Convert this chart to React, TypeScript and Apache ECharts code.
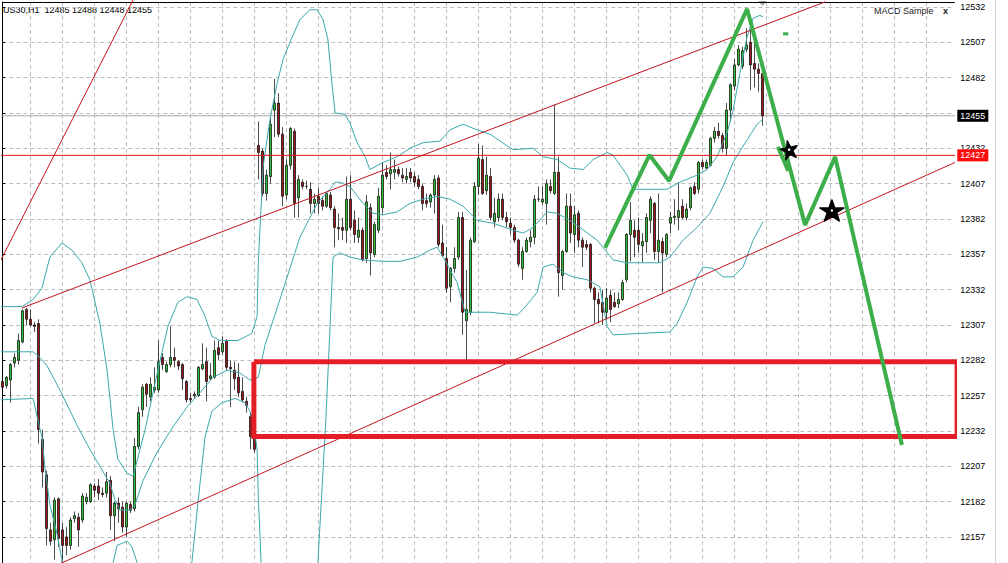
import React, { useEffect, useRef } from "react";
import * as echarts from "echarts";

// ---- Candles (H1 bars) ----
const opens = [
  12267, 12264, 12268, 12280, 12282, 12295, 12318, 12311, 12307, 12308,
  12226, 12201, 12162, 12155, 12184, 12162, 12157, 12151, 12170, 12171,
  12169, 12182, 12182, 12193, 12193, 12188, 12188, 12197, 12172, 12181,
  12178, 12164, 12180, 12177, 12221, 12247, 12265, 12256, 12261, 12261,
  12284, 12274, 12279, 12284, 12281, 12279, 12267, 12255, 12258, 12257,
  12276, 12281, 12269, 12270, 12291, 12288, 12296, 12277, 12275, 12270,
  12260, 12253, 12242, 12228, 12434, 12430, 12400, 12412, 12459, 12464,
  12442, 12399, 12420, 12444, 12397, 12408, 12405, 12403, 12393, 12398,
  12395, 12391, 12399, 12389, 12376, 12376, 12374, 12396, 12381, 12369,
  12374, 12354, 12390, 12357, 12374, 12390, 12415, 12414, 12415, 12417,
  12413, 12410, 12415, 12412, 12410, 12405, 12395, 12394, 12399, 12411,
  12365, 12354, 12334, 12347, 12355, 12383, 12310, 12316, 12366, 12405,
  12424, 12402, 12412, 12380, 12383, 12396, 12383, 12379, 12376, 12367,
  12347, 12359, 12366, 12369, 12396, 12394, 12393, 12405, 12400, 12415,
  12342, 12359, 12391, 12371, 12386, 12367, 12364, 12364, 12333, 12325,
  12323, 12316, 12328, 12323, 12322, 12325, 12339, 12371, 12374, 12374,
  12363, 12366, 12381, 12393, 12359, 12366, 12357, 12379, 12383, 12383,
  12391, 12383, 12390, 12405, 12403, 12422, 12418, 12420, 12439, 12444,
  12441, 12432, 12459, 12476, 12491, 12490, 12502, 12507, 12492, 12488,
  12485,
];
const highs = [
  12269, 12271, 12280, 12287, 12301, 12318, 12319, 12318, 12309, 12311,
  12233, 12204, 12167, 12185, 12185, 12167, 12164, 12171, 12175, 12174,
  12188, 12188, 12195, 12195, 12198, 12192, 12203, 12200, 12182, 12185,
  12182, 12182, 12182, 12227, 12249, 12265, 12266, 12270, 12277, 12296,
  12287, 12281, 12306, 12291, 12282, 12280, 12268, 12259, 12260, 12278,
  12294, 12291, 12280, 12296, 12296, 12299, 12297, 12282, 12281, 12280,
  12270, 12256, 12245, 12231, 12451, 12432, 12417, 12454, 12481, 12471,
  12447, 12424, 12447, 12446, 12413, 12410, 12409, 12408, 12400, 12404,
  12398, 12401, 12401, 12391, 12386, 12383, 12412, 12413, 12388, 12383,
  12376, 12399, 12393, 12380, 12404, 12422, 12420, 12429, 12424, 12419,
  12418, 12418, 12418, 12415, 12413, 12407, 12400, 12400, 12413, 12413,
  12378, 12362, 12348, 12362, 12387, 12387, 12346, 12369, 12408, 12435,
  12434, 12426, 12418, 12397, 12400, 12400, 12387, 12383, 12378, 12368,
  12362, 12369, 12374, 12399, 12405, 12405, 12410, 12410, 12463, 12426,
  12360, 12400, 12400, 12391, 12388, 12369, 12367, 12365, 12334, 12330,
  12332, 12333, 12332, 12330, 12330, 12339, 12372, 12394, 12381, 12383,
  12372, 12386, 12398, 12394, 12400, 12369, 12372, 12387, 12396, 12408,
  12396, 12393, 12405, 12408, 12423, 12424, 12424, 12440, 12447, 12450,
  12443, 12464, 12478, 12495, 12505, 12504, 12517, 12516, 12514, 12492,
  12488,
];
const lows = [
  12262, 12262, 12252, 12277, 12279, 12294, 12307, 12306, 12302, 12223,
  12192, 12151, 12151, 12141, 12150, 12139, 12144, 12148, 12167, 12150,
  12167, 12180, 12181, 12185, 12183, 12185, 12185, 12162, 12154, 12167,
  12160, 12157, 12174, 12175, 12219, 12242, 12249, 12253, 12259, 12259,
  12275, 12273, 12277, 12277, 12275, 12261, 12252, 12252, 12255, 12256,
  12275, 12253, 12268, 12269, 12282, 12286, 12275, 12249, 12261, 12256,
  12252, 12245, 12219, 12217, 12410, 12398, 12395, 12407, 12440, 12440,
  12391, 12396, 12417, 12383, 12383, 12403, 12403, 12386, 12386, 12386,
  12388, 12390, 12388, 12362, 12367, 12367, 12365, 12374, 12365, 12365,
  12352, 12351, 12342, 12355, 12372, 12386, 12410, 12403, 12410, 12412,
  12408, 12407, 12408, 12405, 12403, 12388, 12390, 12390, 12386, 12362,
  12355, 12330, 12323, 12344, 12353, 12300, 12282, 12314, 12365, 12399,
  12399, 12399, 12381, 12376, 12380, 12381, 12376, 12371, 12365, 12348,
  12339, 12358, 12362, 12364, 12394, 12392, 12378, 12400, 12399, 12327,
  12332, 12358, 12365, 12358, 12362, 12348, 12360, 12330, 12308, 12308,
  12307, 12311, 12309, 12319, 12319, 12324, 12337, 12352, 12355, 12358,
  12351, 12358, 12372, 12353, 12351, 12330, 12355, 12372, 12378, 12374,
  12382, 12381, 12388, 12399, 12400, 12417, 12417, 12419, 12436, 12439,
  12429, 12427, 12451, 12473, 12490, 12488, 12500, 12473, 12475, 12472,
  12448,
];
const closes = [
  12263, 12270, 12279, 12284, 12296, 12317, 12311, 12307, 12306, 12233,
  12203, 12163, 12154, 12183, 12156, 12151, 12151, 12169, 12172, 12162,
  12186, 12185, 12194, 12190, 12188, 12187, 12196, 12172, 12181, 12177,
  12164, 12181, 12176, 12221, 12245, 12263, 12258, 12265, 12263, 12281,
  12279, 12279, 12284, 12282, 12278, 12269, 12254, 12254, 12257, 12277,
  12279, 12267, 12271, 12289, 12286, 12294, 12277, 12276, 12269, 12259,
  12254, 12250, 12228, 12219, 12429, 12400, 12413, 12449, 12464, 12442,
  12398, 12420, 12446, 12393, 12410, 12405, 12405, 12393, 12396, 12393,
  12391, 12400, 12390, 12376, 12375, 12374, 12396, 12376, 12371, 12374,
  12353, 12394, 12358, 12378, 12398, 12413, 12412, 12417, 12417, 12414,
  12411, 12412, 12411, 12408, 12405, 12393, 12393, 12399, 12410, 12364,
  12356, 12333, 12347, 12354, 12383, 12316, 12318, 12367, 12405, 12425,
  12400, 12413, 12383, 12386, 12396, 12383, 12380, 12376, 12367, 12350,
  12359, 12367, 12369, 12396, 12396, 12396, 12407, 12402, 12415, 12344,
  12359, 12391, 12372, 12385, 12367, 12362, 12362, 12333, 12325, 12322,
  12316, 12326, 12318, 12320, 12325, 12337, 12371, 12381, 12369, 12364,
  12366, 12383, 12396, 12359, 12367, 12358, 12371, 12383, 12384, 12388,
  12383, 12389, 12404, 12400, 12422, 12419, 12422, 12439, 12444, 12441,
  12432, 12459, 12477, 12491, 12502, 12501, 12505, 12491, 12488, 12485,
  12455,
];
const FUTURE_BARS = 48;

// ---- Price scale ----
const Y_MIN = 12132;
const Y_MAX = 12535.5;
const Y_STEP = 25;

const SYMBOL = "US30,H1";
const HEADER_PRICES = [12485, 12488, 12448, 12455];
const BID_PRICE = 12455;
const LEVEL_PRICE = 12427;

// ---- Bollinger band lines [barIndex, price] ----
const bbUpper = [
  [-0.6, 12320], [4.9, 12320], [7.7, 12325], [9.9, 12333], [11.9, 12355], [14.9, 12365],
  [17.4, 12360], [19.9, 12351], [21.9, 12339], [24.4, 12308], [26.2, 12275], [27.7, 12233],
  [28.9, 12212], [31.2, 12202], [32.7, 12200], [35.7, 12233], [38.9, 12275], [41.4, 12306],
  [43.9, 12323], [46.2, 12327], [48.7, 12325], [50.7, 12313], [52.4, 12299], [54.4, 12296],
  [58.9, 12296], [62.4, 12301], [63.7, 12313], [64.0, 12351], [65.2, 12419], [66.9, 12452],
  [68.7, 12478], [70.2, 12495], [71.9, 12507], [74.4, 12523], [76.9, 12530], [78.7, 12530],
  [80.2, 12523], [81.4, 12509], [82.4, 12478], [83.2, 12457], [85.7, 12456], [86.9, 12450],
  [88.7, 12436], [90.7, 12426], [91.9, 12417], [95.2, 12422], [98.7, 12426], [101.9, 12432],
  [105.2, 12436], [109.4, 12437], [111.9, 12445], [115.2, 12449], [118.7, 12445], [121.9, 12442],
  [127.7, 12431], [132.7, 12432], [135.2, 12426], [138.7, 12424], [141.9, 12418], [145.2, 12417],
  [147.7, 12424], [151.2, 12429], [152.7, 12427], [156.2, 12413], [157.7, 12403], [161.9, 12403],
  [166.2, 12403], [169.4, 12408], [173.7, 12413], [176.2, 12417], [178.7, 12426], [181.2, 12443],
  [182.7, 12459], [184.4, 12485], [186.2, 12511], [187.7, 12524], [189.4, 12526], [190.2, 12525],
];
const bbMiddle = [
  [-0.6, 12288], [7.7, 12288], [9.4, 12284], [11.2, 12278], [14.4, 12261], [18.7, 12236],
  [21.9, 12219], [24.4, 12207], [26.9, 12195], [28.2, 12183], [29.4, 12176], [31.9, 12176],
  [33.2, 12180], [35.2, 12197], [38.7, 12217], [42.7, 12235], [46.2, 12249], [49.4, 12259],
  [52.7, 12270], [56.2, 12275], [59.4, 12273], [61.9, 12268], [64, 12270], [65.7, 12293],
  [69.4, 12325], [74.4, 12369], [78.7, 12393], [81.9, 12403], [83.2, 12408], [84.4, 12408],
  [86.9, 12405], [90.2, 12393], [92.7, 12386], [95.2, 12385], [98.7, 12387], [101.9, 12393],
  [105.2, 12396], [108.7, 12398], [111.9, 12396], [115.2, 12391], [118.7, 12381], [122.7, 12379],
  [127.7, 12374], [130.2, 12372], [132.7, 12376], [136.2, 12387], [138.7, 12386], [141.9, 12381],
  [144.4, 12376], [148.7, 12367], [152.7, 12353], [156.2, 12351], [161.2, 12351], [164.4, 12351],
  [166.9, 12355], [170.2, 12367], [173.7, 12376], [176.9, 12386], [180.2, 12405], [182.7, 12422],
  [186.2, 12438], [188.7, 12449], [189.9, 12452],
];
const bbLower = [
  [-0.6, 12254], [7.7, 12255], [8.7, 12242], [9.9, 12228], [10.7, 12205], [11.9, 12180],
  [13.7, 12159], [14.9, 12141], [17, 12050], [26.5, 12050], [27.7, 12139], [28.7, 12151],
  [31.2, 12154], [32.4, 12150], [33.7, 12139], [36, 12050], [46, 12050], [47.4, 12139],
  [48.9, 12181], [50.7, 12228], [52.4, 12246], [54.9, 12252], [58.2, 12255], [60.7, 12252],
  [61.9, 12246], [62.7, 12240], [63.7, 12219], [64.0, 12185], [64.7, 12139], [66, 12050],
  [77.5, 12050], [78.9, 12139], [80.9, 12240], [81.9, 12304], [82.7, 12355], [84.4, 12358],
  [86.9, 12355], [90.2, 12353], [95.2, 12352], [99.4, 12352], [103.7, 12355], [106.9, 12360],
  [108.7, 12362], [110.2, 12355], [113.7, 12337], [115.7, 12316], [121.9, 12316], [128.7, 12314],
  [130.2, 12318], [133.7, 12330], [135.2, 12348], [137.7, 12350], [140.2, 12344], [142.7, 12341],
  [146.2, 12339], [149.4, 12334], [151.2, 12306], [152.7, 12300], [159.4, 12301], [166.9, 12302],
  [168.7, 12308], [171.2, 12323], [173.7, 12341], [175.2, 12348], [177.7, 12347], [180.2, 12341],
  [182.7, 12341], [185.2, 12348], [187.7, 12367], [189.4, 12376], [190.2, 12380],
];

// ---- Drawn objects [barIndex, price] ----
const channelUpper = [[4.9, 12319], [205.7, 12535.6]];
const channelLower = [[12, 12135], [238.2, 12422]];
const steepLine = [[-0.6, 12351.6], [32.7, 12537]];
const LEVEL_SPAN = [-0.6, 238.2];
const zone = { start: 62.9, end: 238.7, top: 12281, bottom: 12228 };
const zigzag = [
  [150.7, 12361.5], [161.8, 12427.3], [166.7, 12408.9], [186.2, 12530.6],
  [200.7, 12377.8], [208.2, 12425.9], [224.9, 12222.1],
];
const zigzagTick = [[193.9, 12433], [196.5, 12416]];
const greenDash = [[195.2, 12513], [196.5, 12513]];
const stars = [
  { pos: [196.7, 12431], size: [17, 18], rotate: 12 },
  { pos: [207.4, 12388], size: [24, 21], rotate: 0 },
];

const FONT = '"Liberation Sans", Arial, sans-serif';
const STAR_PATH =
  "path://M50,2 L61,36 L97,36 L68,57 L79,92 L50,71 L21,92 L32,57 L3,36 L39,36 Z";

export default function App() {
  const ref = useRef<HTMLDivElement>(null);

  useEffect(() => {
    if (!ref.current) return;
    const chart = echarts.init(ref.current, undefined, { renderer: "svg" });
    const nBars = opens.length + FUTURE_BARS;
    const categories = Array.from({ length: nBars }, (_, i) => String(i));
    const candleData = opens.map((o, i) => [o, closes[i], lows[i], highs[i]]);

    const line = (data: number[][], color: string, width: number, z: number, extra: any = {}) => ({
      type: "line",
      xAxisIndex: 1,
      yAxisIndex: 0,
      data,
      symbol: "none",
      clip: false,
      silent: true,
      z,
      color,
      lineStyle: { color, width, ...extra },
    });

    // horizontal price line (a line series) with its price box on the axis (markLine label)
    const priceLine = (price: number, lineColor: string, boxColor: string, z: number) => ({
      ...line(LEVEL_SPAN.map((x) => [x, price]), lineColor, 1, z),
      markLine: {
        silent: true,
        symbol: ["none", "none"],
        animation: false,
        lineStyle: { color: "rgba(0,0,0,0)", width: 1, type: "solid" },
        label: {
          show: true,
          position: "end",
          distance: 3,
          fontSize: 9,
          fontFamily: FONT,
          color: "#fff",
          backgroundColor: boxColor,
          padding: [2, 3, 1, 3],
          formatter: String(price),
        },
        emphasis: { disabled: true },
        data: [{ yAxis: price }],
      },
    });

    const rect = [
      [zone.start, zone.top],
      [zone.end, zone.top],
      [zone.end, zone.bottom],
      [zone.start, zone.bottom],
      [zone.start, zone.top],
    ];

    chart.setOption({
      animation: false,
      backgroundColor: "#ffffff",
      grid: { left: 2.3, right: 53.7, top: 2, bottom: 2.7, containLabel: false },
      xAxis: [
        {
          type: "category",
          data: categories,
          boundaryGap: false,
          position: "top",
          axisLine: { show: true, lineStyle: { color: "#000", width: 1 } },
          axisTick: { show: false },
          axisLabel: { show: false },
          splitLine: {
            show: true,
            interval: (index: number) => index % 8 === 7,
            lineStyle: { color: "#bdbdbd", type: [4, 3], width: 1 },
          },
        },
        { type: "value", min: 0, max: nBars - 1, show: false },
      ],
      yAxis: {
        type: "value",
        position: "right",
        min: Y_MIN,
        max: Y_MAX,
        interval: Y_STEP,
        axisLine: { show: true, lineStyle: { color: "#000", width: 1 } },
        axisTick: { show: true, length: 3, lineStyle: { color: "#000" } },
        axisLabel: {
          color: "#000",
          fontSize: 9,
          fontFamily: FONT,
          margin: 6,
          showMaxLabel: false,
          showMinLabel: false,
          formatter: (v: number) => String(Math.round(v)),
        },
        splitLine: { show: true, lineStyle: { color: "#bdbdbd", type: [4, 3], width: 1 } },
      },
      series: [
        priceLine(BID_PRICE, "#a9a9a9", "#000", 1),
        priceLine(LEVEL_PRICE, "#e01414", "#ff0a0a", 4),
        {
          type: "candlestick",
          xAxisIndex: 0,
          yAxisIndex: 0,
          data: candleData,
          barWidth: 3,
          z: 2,
          silent: true,
          itemStyle: {
            color: "#33bb33",
            color0: "#961c1c",
            borderColor: "#000",
            borderColor0: "#000",
            borderWidth: 0.7,
          },
        },
        line(bbUpper, "#3aa9ad", 1, 3),
        line(bbMiddle, "#3aa9ad", 1, 3),
        line(bbLower, "#3aa9ad", 1, 3),
        line(channelUpper, "#c4141c", 1, 4),
        line(channelLower, "#c4141c", 1, 4),
        line(steepLine, "#c4141c", 1, 4),
        line(rect, "#e31e26", 5, 4, { join: "miter" }),
        line(zigzag, "#3cae4a", 4, 5),
        line(zigzagTick, "#3cae4a", 4, 5),
        line(greenDash, "#3cae4a", 3, 5),
        {
          type: "scatter",
          xAxisIndex: 1,
          yAxisIndex: 0,
          silent: true,
          z: 6,
          clip: false,
          data: stars.map((s) => ({
            value: s.pos,
            symbolSize: s.size,
            symbolRotate: s.rotate,
          })),
          symbol: STAR_PATH,
          itemStyle: { color: "#000", opacity: 1, borderColor: "#000", borderWidth: 1.5, borderJoin: "round" },
        },
        {
          type: "scatter",
          xAxisIndex: 1,
          yAxisIndex: 0,
          silent: true,
          z: 7,
          clip: false,
          data: stars.map((s) => s.pos),
          symbol: "circle",
          symbolSize: 2.5,
          itemStyle: { color: "#fff", opacity: 1 },
        },
      ],
      graphic: [
        {
          type: "text",
          x: 3,
          y: 10,
          silent: true,
          style: {
            text: `${SYMBOL}  ${HEADER_PRICES.join(" ")}`,
            fill: "#000",
            font: `9px ${FONT}`,
            verticalAlign: "middle",
          },
        },
        {
          type: "text",
          x: 874,
          y: 11,
          silent: true,
          style: { text: "MACD Sample", fill: "#222", font: `9px ${FONT}`, verticalAlign: "middle" },
        },
        {
          type: "text",
          x: 943,
          y: 11,
          silent: true,
          style: { text: "x", fill: "#222", font: `bold 9px ${FONT}`, verticalAlign: "middle" },
        },
        {
          type: "polygon",
          silent: true,
          shape: { points: [[758, 1], [767, 1], [762.5, 6]] },
          style: { fill: "#a8a8a8" },
        },
        {
          type: "line",
          silent: true,
          shape: { x1: 995.5, y1: 0, x2: 995.5, y2: 563 },
          style: { stroke: "#d4d4d4", lineWidth: 1 },
        },
      ],
    });

    return () => chart.dispose();
  }, []);

  return (
    <div
      style={{
        position: "fixed",
        left: 0,
        top: 0,
        width: 1008,
        height: 563,
        overflow: "hidden",
        background: "#fff",
      }}
    >
      <div ref={ref} style={{ width: 1008, height: 575 }} />
    </div>
  );
}
